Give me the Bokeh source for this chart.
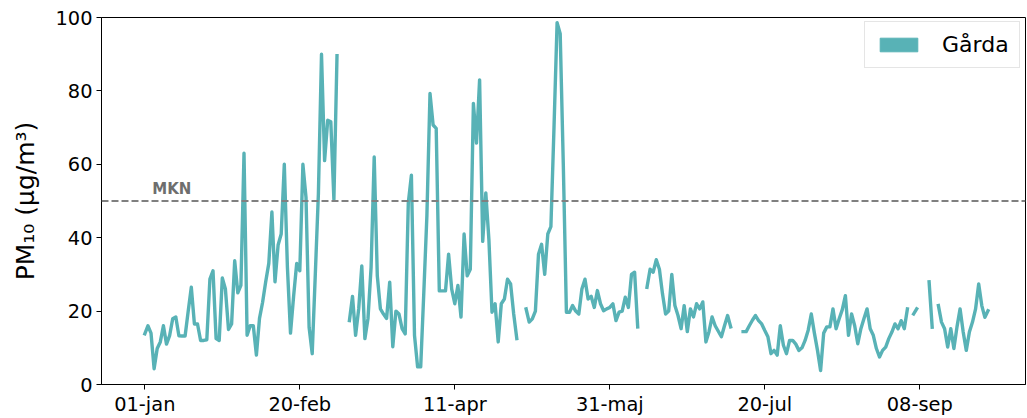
import numpy as np
import pandas as pd
from bokeh.plotting import figure
from bokeh.models import (Range1d, FixedTicker, Span, Label, Legend, LegendItem,
                          ColumnDataSource)
from bokeh.embed import file_html
from bokeh.resources import INLINE

nan = float("nan")

# ---- data: daily PM10 (µg/m3) at Gårda ----
start_date = "2019-01-01"
jan = [13.8, 16, 14, 4.3, 9.8, 11.6, 16, 11, 13.3, 17.9, 18.4, 13.3, 13.2, 13.2, 20, 26.5,
       16.5, 16.5, 12, 12, 12.2, 28.7, 31, 12.5, 12, 29, 26, 15, 16.5, 33.7, 25]
feb = [27, 63, 13.4, 16, 16, 8, 18, 22.4, 28, 33, 47, 28, 38, 41, 60, 32, 14, 24, 33, 31,
       60, 51, 15.6, 8.4, 30, 52, 90, 61]
mar = [72, 71.6, 50.4, 89.6, nan, nan, nan, 17.4, 24, 13.4, 20.6, 32.3, 12.5, 18, 32, 62,
       29.6, 20.6, 19.2, 18, 27.9, 10.3, 20, 19.2, 15.2, 13.8, 49.5, 57, 13.4, 4.8, 4.8]
apr = [25, 46, 79.3, 70.7, 69.8, 25.5, 25.5, 25.5, 35.5, 26, 22, 27, 18.4, 41, 29.6, 31.4,
       76.6, 65.8, 83, 39, 52.2, 39.5, 19.7, 22, 11.6, 22, 23.3, 28.7, 27.4, 19.2]
may = [12.5, nan, nan, 20.6, 17, 17.9, 20, 35.5, 38.2, 30, 41, 43, 70, 98.6, 95.6, 60, 19.7,
       19.7, 21.5, 20, 19.2, 26, 28.7, 23.3, 24, 21, 25.6, 22, 20.1, 20.6, 21]
jun = [22, 17.4, 19.7, 20, 23.8, 21, 30, 30.6, 15.7, nan, nan, 26.5, 31.4, 30.6, 34, 31.4,
       24.7, 19.2, 20, 30, 21.5, 18.8, 15.2, 21.5, 14.4, 20.6, 18.4, 22, 20.6, 22.5]
jul = [11.6, 14.4, 18.4, 16, 14.5, 13, 16, 18.8, 15.7, nan, nan, nan, 14.4, 14.4, 16, 17.5,
       18.8, 17.4, 16.5, 14.7, 13, 8.4, 9.3, 8, 16, 10.7, 8.4, 12, 12, 11, 9.3]
aug = [10, 12, 14.8, 19.2, 14, 9.3, 3.8, 14, 15.7, 15.7, 20.6, 15.2, 17.9, 20.4, 24.2, 13.4,
       19.2, 16, 11.1, 15.2, 18, 20.6, 15.2, 13.4, 9.8, 7.5, 9.3, 10.2, 12.5, 14.3, 16.5]
sep = [15.2, 17.4, 15.2, 20.6, nan, 19.2, 20.6, nan, nan, nan, 28, 15.6, nan, 21.5, 17, 15.2,
       10.2, 15.2, 9.8, 15.7, 20.6, 14.3, 9.3, 14.3, 17, 20.6, 27.4, 21.5, 18.3, 20.1]

station = "Gårda"
limit_value = 50
limit_label = "MKN"
tick_dates = ["2019-01-01", "2019-02-20", "2019-04-11", "2019-05-31", "2019-07-20", "2019-09-08"]
tick_labels = ["01-jan", "20-feb", "11-apr", "31-maj", "20-jul", "08-sep"]
y_ticks = [0, 20, 40, 60, 80, 100]

# ---- build ----
values = np.array(jan + feb + mar + apr + may + jun + jul + aug + sep, dtype=float)
dates = pd.date_range(start_date, periods=len(values), freq="D")
day = np.asarray((dates - dates[0]).days, dtype=float)
tick_days = [int((pd.Timestamp(d) - dates[0]).days) for d in tick_dates]

COLOR = "#58b2b6"
FONT = "DejaVu Sans"

src = ColumnDataSource(dict(day=day, pm10=values))

p = figure(width=1027, height=418, output_backend="svg", toolbar_location=None,
           x_range=Range1d(-13.97, 284.1), y_range=Range1d(0, 100),
           min_border_left=101, min_border_right=2, min_border_top=17,
           min_border_bottom=32)
p.background_fill_color = "white"
p.border_fill_color = "white"
p.outline_line_color = "black"
p.outline_line_width = 1
p.grid.visible = False

p.line("day", "pm10", source=src, line_color=COLOR, line_width=3.4,
       line_join="round", line_cap="square")

p.add_layout(Span(location=limit_value, dimension="width", line_color="#808080",
                  line_width=2, line_dash="7 3"))
p.add_layout(Label(x=2.4, y=limit_value, text=limit_label, text_font=FONT,
                   text_font_style="bold", text_font_size="15px", text_color="#6e6e6e",
                   y_offset=3, text_baseline="bottom"))

# axes
p.xaxis.ticker = FixedTicker(ticks=tick_days)
p.xaxis.major_label_overrides = {d: lab for d, lab in zip(tick_days, tick_labels)}
p.yaxis.ticker = FixedTicker(ticks=y_ticks)
for ax in (p.xaxis, p.yaxis):
    ax.axis_line_color = "black"
    ax.major_tick_line_color = "black"
    ax.major_tick_out = 5
    ax.major_tick_in = 0
    ax.minor_tick_line_color = None
    ax.major_label_text_font = FONT
    ax.major_label_text_font_size = "19.4px"
    ax.major_label_text_color = "black"
p.xaxis.major_label_standoff = 3
p.yaxis.major_label_standoff = 4
p.yaxis.axis_label = "PM₁₀ (µg/m³)"
p.yaxis.axis_label_text_font = FONT
p.yaxis.axis_label_text_font_size = "25px"
p.yaxis.axis_label_text_font_style = "normal"
p.yaxis.axis_label_text_color = "black"
p.yaxis.axis_label_standoff = 12

# legend (filled patch; the proxy row has no position, so nothing is drawn in the plot)
proxy = ColumnDataSource(dict(x=[nan], y=[nan]))
patch = p.rect(x="x", y="y", width=1, height=1, source=proxy,
               fill_color=COLOR, line_color=COLOR)
legend = Legend(items=[LegendItem(label=station, renderers=[patch], index=0)],
                location=(763, 316), orientation="vertical",
                label_text_font=FONT, label_text_font_size="22px",
                label_text_color="black",
                glyph_width=47, glyph_height=17, label_standoff=20,
                padding=10, spacing=0, margin=0,
                border_line_color="#cccccc", border_line_width=1,
                background_fill_color="white", background_fill_alpha=0.8)
p.add_layout(legend)

open("out.html", "w").write(file_html(p, INLINE))
